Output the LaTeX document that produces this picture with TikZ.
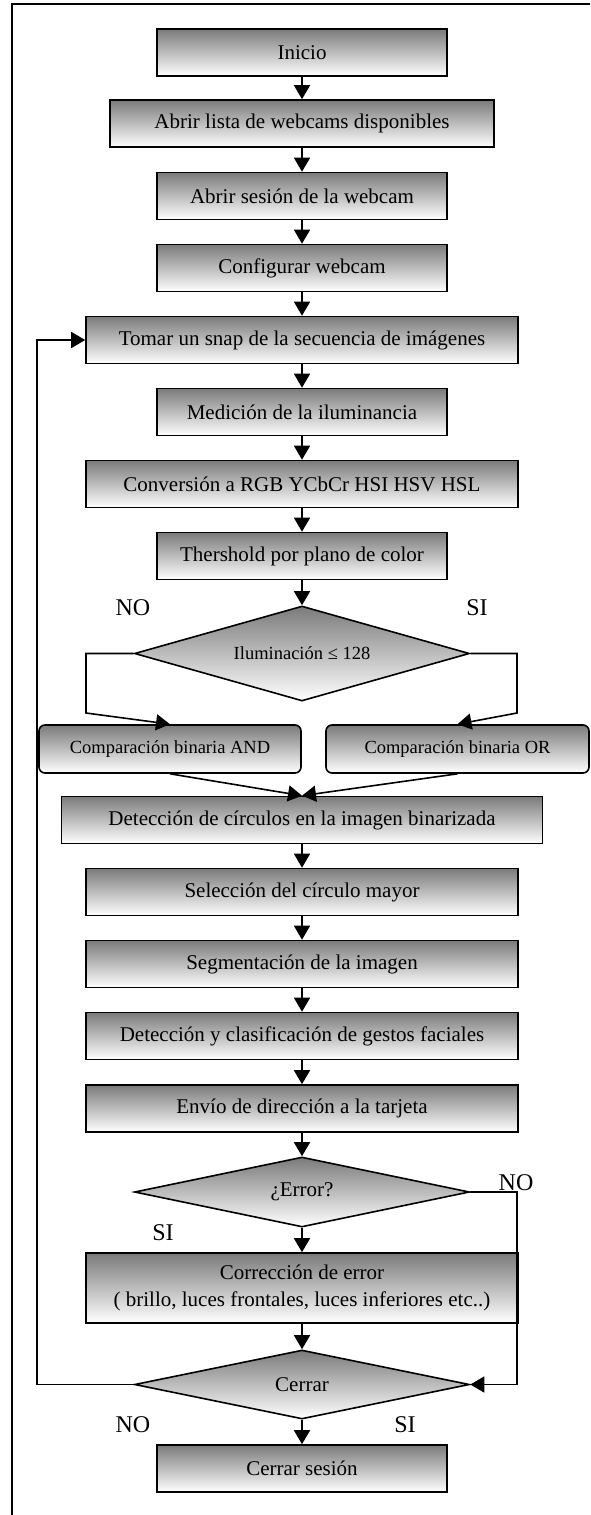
\documentclass[tikz,border=0pt]{standalone}
\usepackage{fontspec}
\setmainfont{Liberation Serif}
\usetikzlibrary{arrows.meta, shapes.geometric}

\begin{document}
\begin{tikzpicture}[x=1pt, y=-1pt,
  box/.style={rectangle, draw=black, line width=1.6pt, top color=black!52, bottom color=white, minimum width=290pt, minimum height=47pt, inner sep=0pt, font=\fontsize{21}{27}\selectfont, align=center},
  widebox/.style={box, minimum width=432pt},
  roundbox/.style={box, rounded corners=6pt, font=\fontsize{18.5}{22}\selectfont},
  decision/.style={diamond, draw=black, line width=1.6pt, top color=black!52, bottom color=white, minimum width=335pt, minimum height=70pt, inner sep=0pt, aspect=4.8, font=\fontsize{21}{26}\selectfont},
  answer/.style={font=\fontsize{24}{28}\selectfont, inner sep=0pt},
  arrow/.style={-{Triangle[length=14pt, width=16pt]}, line width=1.6pt},
]
  \useasboundingbox (0,0) rectangle (590,1515);
  \draw[line width=1.6pt] (590,4) -- (12,4) -- (12,1515);

  \node[box] (ini) at (302, 52.5) {Inicio};
  \node[box, minimum width=384pt] (lista) at (302, 123.5) {Abrir lista de webcams disponibles};
  \node[box] (sesion) at (302, 196) {Abrir sesión de la webcam};
  \node[box] (config) at (302, 268) {Configurar webcam};
  \node[widebox] (snap) at (302, 340) {Tomar un snap de la secuencia de imágenes};
  \node[box] (ilum) at (302, 412) {Medición de la iluminancia};
  \node[widebox] (conv) at (302, 484) {Conversión a RGB YCbCr HSI HSV HSL};
  \node[box] (thr) at (302, 556) {Thershold por plano de color};

  \node[decision, minimum height=95pt, aspect=3.5, font=\fontsize{18.5}{22}\selectfont] (dec) at (302, 653.5) {Iluminación ≤ 128};
  \node[answer] (decno) at (133, 608) {NO};
  \node[answer] (decsi) at (477, 608) {SI};
  \node[roundbox, minimum width=262pt, minimum height=48pt] (band) at (170, 749) {Comparación binaria AND};
  \node[roundbox, minimum width=263pt, minimum height=48pt] (bor) at (457.5, 749) {Comparación binaria OR};
  \coordinate (decl) at (86, 713);
  \coordinate (decr) at (517, 713);

  \node[box, minimum width=481pt] (circ) at (302, 820) {Detección de círculos en la imagen binarizada};
  \node[widebox] (mayor) at (302, 892) {Selección del círculo mayor};
  \node[widebox] (segm) at (302, 964) {Segmentación de la imagen};
  \node[widebox] (gest) at (302, 1036) {Detección y clasificación de gestos faciales};
  \node[widebox] (envio) at (302, 1108.5) {Envío de dirección a la tarjeta};

  \node[decision] (err) at (302, 1192) {¿Error?};
  \node[answer] (errno) at (516, 1183) {NO};
  \node[answer] (errsi) at (163, 1233) {SI};
  \node[widebox, minimum height=70pt] (corr) at (302, 1288) {Corrección de error\\( brillo, luces frontales, luces inferiores etc..)};

  \node[decision, minimum height=69pt] (cerrar) at (302, 1384.5) {Cerrar};
  \node[answer] (cerrarno) at (133, 1425) {NO};
  \node[answer] (cerrarsi) at (405, 1425) {SI};
  \node[box] (fin) at (302, 1468.5) {Cerrar sesión};

  \coordinate (back) at (37, 0);
  \coordinate (skip) at (517, 0);

  \draw[arrow] (ini) -- (lista);
  \draw[arrow] (lista) -- (sesion);
  \draw[arrow] (sesion) -- (config);
  \draw[arrow] (config) -- (snap);
  \draw[arrow] (snap) -- (ilum);
  \draw[arrow] (ilum) -- (conv);
  \draw[arrow] (conv) -- (thr);
  \draw[arrow] (thr) -- (dec);
  \draw[arrow] (dec.west) -| (decl) -- (band.north);
  \draw[arrow] (dec.east) -| (decr) -- (bor.north);
  \draw[arrow] (band.south) -- (circ.north);
  \draw[arrow] (bor.south) -- (circ.north);
  \draw[arrow] (circ) -- (mayor);
  \draw[arrow] (mayor) -- (segm);
  \draw[arrow] (segm) -- (gest);
  \draw[arrow] (gest) -- (envio);
  \draw[arrow] (envio) -- (err);
  \draw[arrow] (err) -- (corr);
  \draw[arrow] (err.east) -- (err.east -| skip) |- (cerrar.east);
  \draw[arrow] (corr) -- (cerrar);
  \draw[arrow] (cerrar) -- (fin);
  \draw[arrow] (cerrar.west) -- (cerrar.west -| back) |- (snap.west);
\end{tikzpicture}
\end{document}
